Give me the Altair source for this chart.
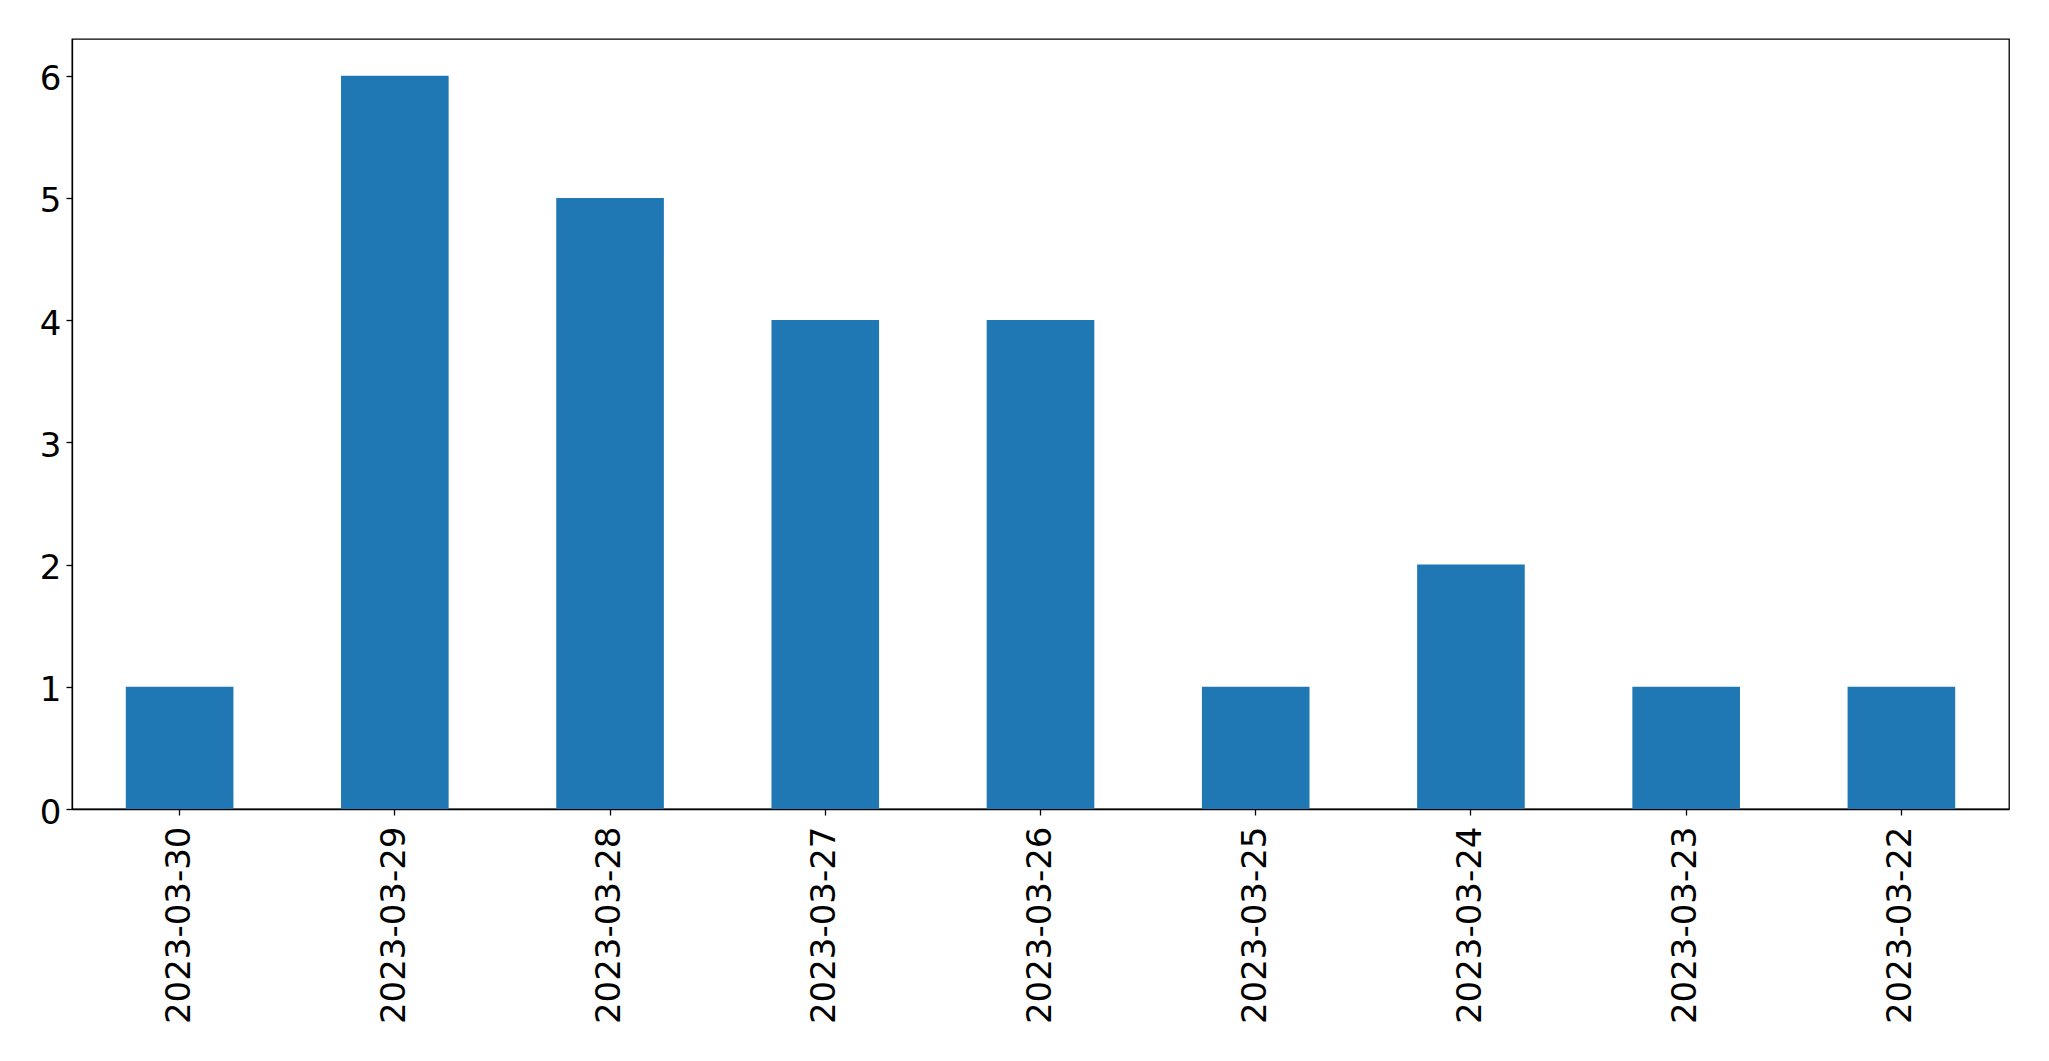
import altair as alt
import pandas as pd

dates = ["2023-03-30", "2023-03-29", "2023-03-28", "2023-03-27", "2023-03-26",
         "2023-03-25", "2023-03-24", "2023-03-23", "2023-03-22"]
counts = [1, 6, 5, 4, 4, 1, 2, 1, 1]
y_ticks = [0, 1, 2, 3, 4, 5, 6]

df = pd.DataFrame({"date": dates, "count": counts})

chart = alt.Chart(df).mark_bar(color="#1f77b4").encode(
    x=alt.X("date:N", sort=dates, title=None,
            scale=alt.Scale(paddingInner=0.5, paddingOuter=0.25),
            axis=alt.Axis(labelAngle=-90, labelFontSize=34, labelFont="DejaVu Sans",
                          labelColor="black", tickColor="black", domainColor="black",
                          tickSize=6, labelPadding=11, labelBaseline="middle", labelAlign="right",
                          labelLimit=0, labelOverlap=False)),
    y=alt.Y("count:Q", title=None,
            scale=alt.Scale(domain=[0, 6.3], nice=False, zero=True),
            axis=alt.Axis(values=y_ticks, grid=False, labelFontSize=34, labelFont="DejaVu Sans",
                          labelColor="black", tickColor="black", domainColor="black",
                          tickSize=6, labelPadding=5, format="d", labelLimit=0,
                          labelOffset=4)),
).properties(
    width=1937, height=770,
    autosize=alt.AutoSizeParams(type="none"),
    padding={"left": 64, "top": 31, "right": 30, "bottom": 230},
).configure_view(stroke="black", strokeWidth=1.3).configure_axis(domainWidth=1.3, tickWidth=1.3)

chart.save("out.html", embed_options={"renderer": "svg", "actions": False})
